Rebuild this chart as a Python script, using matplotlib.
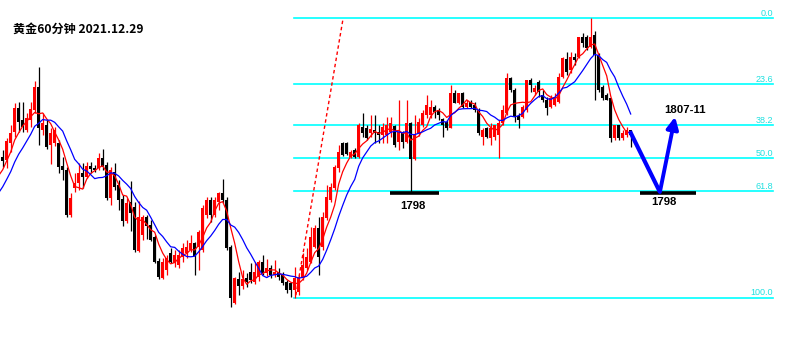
import numpy as np
import pandas as pd
import matplotlib
matplotlib.use("Agg")
import matplotlib.pyplot as plt

plt.rcParams['font.family'] = ['Noto Sans CJK SC', 'DejaVu Sans']

title = "黄金60分钟 2021.12.29"

# 60 minute candles, oldest first
opens = [1802.7, 1802.3, 1804.4, 1805.8, 1808.8, 1807.3, 1806.1, 1807.3, 1808.6, 1811.4,
         1806.1, 1806.7, 1804.2, 1804.4, 1804.4, 1801.6, 1801.1, 1795.4, 1798.8, 1799.4,
         1800.7, 1800.2, 1801.6, 1801.3, 1801.3, 1802.6, 1801.7, 1797.6, 1800.8, 1799.2,
         1797.4, 1794.7, 1797.1, 1796.4, 1790.9, 1792.9, 1795.2, 1794.2, 1792.7, 1789.7,
         1787.6, 1788.6, 1790.7, 1789.4, 1789.2, 1790.2, 1790.7, 1791.1, 1791.9, 1791.4,
         1791.1, 1795.4, 1797.3, 1795.4, 1797.1, 1798.2, 1797.3, 1791.4, 1784.4, 1787.4,
         1786.6, 1787.6, 1788.3, 1787.1, 1787.7, 1789.6, 1788.2, 1788.8, 1787.9, 1788.3,
         1787.9, 1787.1, 1786.9, 1786.1, 1785.8, 1787.6, 1788.8, 1789.6, 1791.4, 1793.8,
         1791.4, 1795.1, 1797.3, 1798.8, 1801.3, 1804.4, 1804.4, 1802.7, 1803.6, 1802.7,
         1806.4, 1806.3, 1805.7, 1806.1, 1805.8, 1805.4, 1805.4, 1805.8, 1806.6, 1804.6,
         1805.7, 1804.6, 1806.9, 1802.4, 1805.7, 1806.7, 1807.9, 1807.9, 1808.9, 1808.6,
         1807.4, 1807.1, 1806.3, 1810.7, 1809.4, 1810.7, 1808.9, 1809.6, 1809.2, 1808.6,
         1805.2, 1806.3, 1805.1, 1805.2, 1805.4, 1806.9, 1808.2, 1812.6, 1811.1, 1807.8,
         1807.7, 1808.6, 1812.3, 1810.8, 1812.1, 1810.4, 1809.8, 1808.9, 1809.2, 1809.6,
         1812.7, 1814.9, 1813.6, 1815.2, 1815.2, 1817.7, 1817.7, 1816.4, 1817.9, 1815.4,
         1811.4, 1810.4, 1810.1, 1805.1, 1806.7, 1805.1, 1805.4, 1806.1]
highs = [1803.6, 1805.1, 1806.7, 1809.4, 1809.6, 1809.6, 1808.2, 1809.6, 1812.2, 1813.9,
         1808.2, 1807.3, 1806.3, 1806.4, 1804.8, 1802.7, 1801.4, 1798.2, 1800.7, 1801.9,
         1801.9, 1802.1, 1802.1, 1801.7, 1803.2, 1803.7, 1802.1, 1801.4, 1801.9, 1799.8,
         1797.9, 1797.6, 1799.7, 1797.1, 1797.2, 1795.4, 1795.4, 1794.8, 1792.9, 1790.1,
         1790.1, 1790.4, 1791.3, 1791.1, 1791.1, 1791.9, 1792.3, 1792.9, 1792.1, 1793.6,
         1796.7, 1797.7, 1797.7, 1797.7, 1798.3, 1799.9, 1797.7, 1791.7, 1787.7, 1788.3,
         1788.6, 1788.2, 1789.4, 1789.6, 1789.8, 1790.4, 1789.9, 1789.2, 1789.8, 1788.8,
         1788.3, 1787.3, 1787.1, 1788.9, 1787.9, 1790.7, 1791.3, 1793.9, 1794.2, 1795.2,
         1795.8, 1799.2, 1799.4, 1801.7, 1804.2, 1804.6, 1804.6, 1803.6, 1803.8, 1806.9,
         1808.2, 1806.7, 1807.9, 1807.9, 1806.7, 1806.9, 1807.7, 1807.7, 1806.7, 1809.8,
         1805.9, 1809.8, 1807.1, 1807.9, 1807.6, 1808.6, 1810.4, 1809.8, 1809.2, 1808.8,
         1807.6, 1807.3, 1811.7, 1811.1, 1810.7, 1810.8, 1809.8, 1809.8, 1809.6, 1808.8,
         1806.3, 1806.4, 1806.9, 1806.7, 1807.3, 1809.2, 1813.2, 1812.7, 1811.3, 1808.2,
         1809.2, 1812.3, 1812.6, 1811.7, 1812.3, 1811.1, 1810.2, 1810.4, 1810.7, 1813.2,
         1815.2, 1815.8, 1815.8, 1815.7, 1817.7, 1818.2, 1817.9, 1820.0, 1818.4, 1815.7,
         1811.7, 1810.7, 1810.1, 1806.7, 1806.7, 1806.1, 1806.4, 1806.1]
lows = [1801.4, 1801.3, 1803.3, 1805.2, 1805.8, 1805.8, 1805.8, 1806.4, 1808.2, 1804.2,
        1805.4, 1803.7, 1801.8, 1804.1, 1800.7, 1799.8, 1795.2, 1795.2, 1798.3, 1798.6,
        1798.8, 1800.1, 1800.7, 1800.8, 1801.1, 1801.1, 1797.3, 1796.7, 1798.6, 1796.1,
        1794.1, 1794.4, 1793.4, 1790.8, 1790.8, 1792.3, 1792.4, 1792.2, 1789.4, 1787.4,
        1787.4, 1787.9, 1789.4, 1788.9, 1788.8, 1789.6, 1790.1, 1790.8, 1787.9, 1788.6,
        1790.8, 1795.1, 1794.6, 1795.2, 1796.1, 1796.9, 1791.1, 1783.9, 1784.3, 1785.4,
        1786.2, 1786.4, 1786.9, 1786.8, 1787.2, 1787.9, 1787.8, 1787.6, 1787.7, 1787.3,
        1786.7, 1785.7, 1785.2, 1785.1, 1785.4, 1787.3, 1788.6, 1789.4, 1791.3, 1787.9,
        1791.1, 1794.8, 1797.1, 1798.6, 1800.8, 1802.8, 1802.9, 1802.6, 1802.6, 1802.6,
        1805.2, 1804.8, 1805.2, 1804.4, 1804.4, 1804.4, 1804.4, 1805.2, 1803.9, 1803.6,
        1803.8, 1804.4, 1798.3, 1802.3, 1805.3, 1806.4, 1807.6, 1807.6, 1807.6, 1807.3,
        1805.2, 1806.1, 1806.3, 1809.4, 1809.3, 1808.8, 1808.8, 1808.8, 1808.3, 1805.4,
        1804.2, 1805.1, 1804.2, 1804.8, 1802.6, 1806.7, 1807.9, 1810.8, 1807.1, 1806.3,
        1807.6, 1808.3, 1810.8, 1810.4, 1810.2, 1809.6, 1807.9, 1808.8, 1809.1, 1809.4,
        1812.6, 1812.9, 1813.2, 1814.2, 1815.1, 1816.4, 1816.1, 1816.3, 1809.8, 1810.8,
        1809.8, 1809.8, 1804.6, 1804.8, 1804.8, 1804.8, 1805.2, 1803.9]
closes = [1802.2, 1804.7, 1805.7, 1808.8, 1807.1, 1806.4, 1807.6, 1808.7, 1811.4, 1806.3,
          1806.9, 1803.9, 1805.7, 1806.1, 1801.4, 1801.1, 1795.4, 1797.6, 1799.4, 1800.7,
          1800.2, 1801.6, 1801.2, 1801.1, 1802.6, 1801.4, 1797.6, 1801.1, 1798.9, 1797.3,
          1794.7, 1796.9, 1795.7, 1791.1, 1795.2, 1795.2, 1794.1, 1792.3, 1789.6, 1787.7,
          1789.6, 1790.1, 1789.6, 1790.4, 1790.4, 1791.3, 1791.4, 1791.9, 1790.3, 1793.3,
          1796.3, 1797.3, 1795.4, 1797.3, 1798.2, 1797.3, 1791.3, 1785.1, 1787.6, 1786.6,
          1787.4, 1787.1, 1787.3, 1788.3, 1789.6, 1788.2, 1788.8, 1787.9, 1788.3, 1787.7,
          1786.9, 1786.1, 1786.1, 1787.6, 1787.7, 1789.2, 1790.2, 1792.7, 1793.8, 1790.2,
          1795.2, 1797.7, 1798.9, 1801.4, 1803.3, 1802.9, 1803.1, 1803.3, 1802.7, 1806.7,
          1805.7, 1805.1, 1806.2, 1805.7, 1805.4, 1806.4, 1806.7, 1806.9, 1804.2, 1805.8,
          1804.6, 1806.9, 1802.4, 1805.4, 1807.1, 1808.2, 1809.2, 1808.9, 1808.3, 1807.9,
          1806.7, 1806.3, 1810.7, 1809.4, 1810.7, 1808.9, 1809.4, 1808.9, 1808.6, 1805.7,
          1806.1, 1805.2, 1806.3, 1806.7, 1806.9, 1808.6, 1812.6, 1811.1, 1807.7, 1807.3,
          1808.9, 1812.3, 1811.7, 1811.3, 1810.8, 1809.8, 1808.8, 1810.1, 1810.2, 1812.7,
          1815.1, 1813.3, 1815.2, 1814.8, 1817.7, 1816.9, 1816.3, 1817.7, 1815.4, 1811.1,
          1810.1, 1809.8, 1805.1, 1806.7, 1805.1, 1805.7, 1806.1, 1805.4]
# closes before the visible window, only used for the moving averages
prev_closes = [1794.8, 1795.4, 1796.1, 1796.7, 1797.3, 1798.6, 1799.2, 1800.1, 1801.3, 1802.6]

# fibonacci retracement from the swing low to the top
fib_high = 1820.0
fib_low = 1785.1
fib_levels = [0.0, 23.6, 38.2, 50.0, 61.8, 100.0]
fib_start = 72.8      # bar where the fib lines begin
fib_end = 192.6

# hand drawn trend line (bar, price)
trend_bars = [73.3, 85.1]
trend_prices = [1785.4, 1820.0]

# forecast path (bar, price)
path_bars = [156.8, 164.3, 168.1]
path_prices = [1805.9, 1798.3, 1807.7]

support_label = "1798"
support_spans = [(96.9, 109.1), (159.3, 173.3)]
support_label_pos = [(102.6, 1796.55), (165.3, 1797.05)]
target_label = "1807-11"
target_label_pos = (170.6, 1808.55)

n = len(closes)
x = np.arange(n)
o = np.array(opens)
h = np.array(highs)
l = np.array(lows)
c = np.array(closes)

all_close = pd.Series(prev_closes + closes)
ma5 = all_close.rolling(5).mean().values
ma10 = all_close.rolling(10).mean().values
ma_x = np.arange(-len(prev_closes), n)

fig = plt.figure(figsize=(8, 3.44), dpi=100)
ax = fig.add_axes([0, 0, 1, 1])
ax.set_xlim(-0.675, 199.325)
ax.set_ylim(1779.3, 1822.3)
ax.axis('off')

# fib lines
for r in fib_levels:
    lvl = fib_high - r / 100 * (fib_high - fib_low)
    ax.plot([fib_start, fib_end], [lvl, lvl], color='#00FFFF', lw=1.2, zorder=1)
    ax.text(fib_end, lvl + 0.3, f"{r:.1f}", color='#20E0E0', fontsize=6.5,
            family=['Liberation Sans'], ha='right', va='baseline')

# candles
up = c >= o
colors = np.where(up, '#FF0000', '#000000')
ax.vlines(x, l, h, colors=colors, lw=0.9, zorder=3)
body_low = np.minimum(o, c)
body_h = np.maximum(np.abs(c - o), 0.12)
ax.bar(x, body_h, bottom=body_low, width=0.78, color=colors, lw=0, zorder=4)

ax.plot(ma_x, ma5, color='#FF0000', lw=0.9, zorder=5)
ax.plot(ma_x, ma10, color='#0000FF', lw=0.9, zorder=5)

ax.plot(trend_bars, trend_prices, color='#FF0000', lw=1.0, ls=(0, (2.5, 2)), zorder=2)

# support bars and labels
sup = fib_high - 0.618 * (fib_high - fib_low) - 0.2
for a, b in support_spans:
    ax.plot([a, b], [sup, sup], color='black', lw=2.6, solid_capstyle='butt', zorder=6)
for px, py in support_label_pos:
    ax.text(px, py, support_label, fontsize=8.2, fontweight='bold',
            family=['Liberation Sans'], ha='center', va='center', zorder=7)
ax.text(target_label_pos[0], target_label_pos[1], target_label, fontsize=8.2,
        fontweight='bold', family=['Liberation Sans'], ha='center', va='center', zorder=7)

# forecast arrow
ax.plot(path_bars[:2], path_prices[:2], color='#0000FF', lw=3.0,
        solid_capstyle='butt', zorder=8)
ax.annotate('', xy=(path_bars[2], path_prices[2]), xytext=(path_bars[1], path_prices[1]),
            arrowprops=dict(arrowstyle='-|>,head_length=0.7,head_width=0.35',
                            color='#0000FF', lw=2.8, shrinkA=0, shrinkB=0), zorder=8)

fig.text(13 / 800, 1 - 33 / 344, title, fontsize=8.7, fontweight='bold',
         ha='left', va='baseline')

fig.savefig("out.png", dpi=100, facecolor='white')
